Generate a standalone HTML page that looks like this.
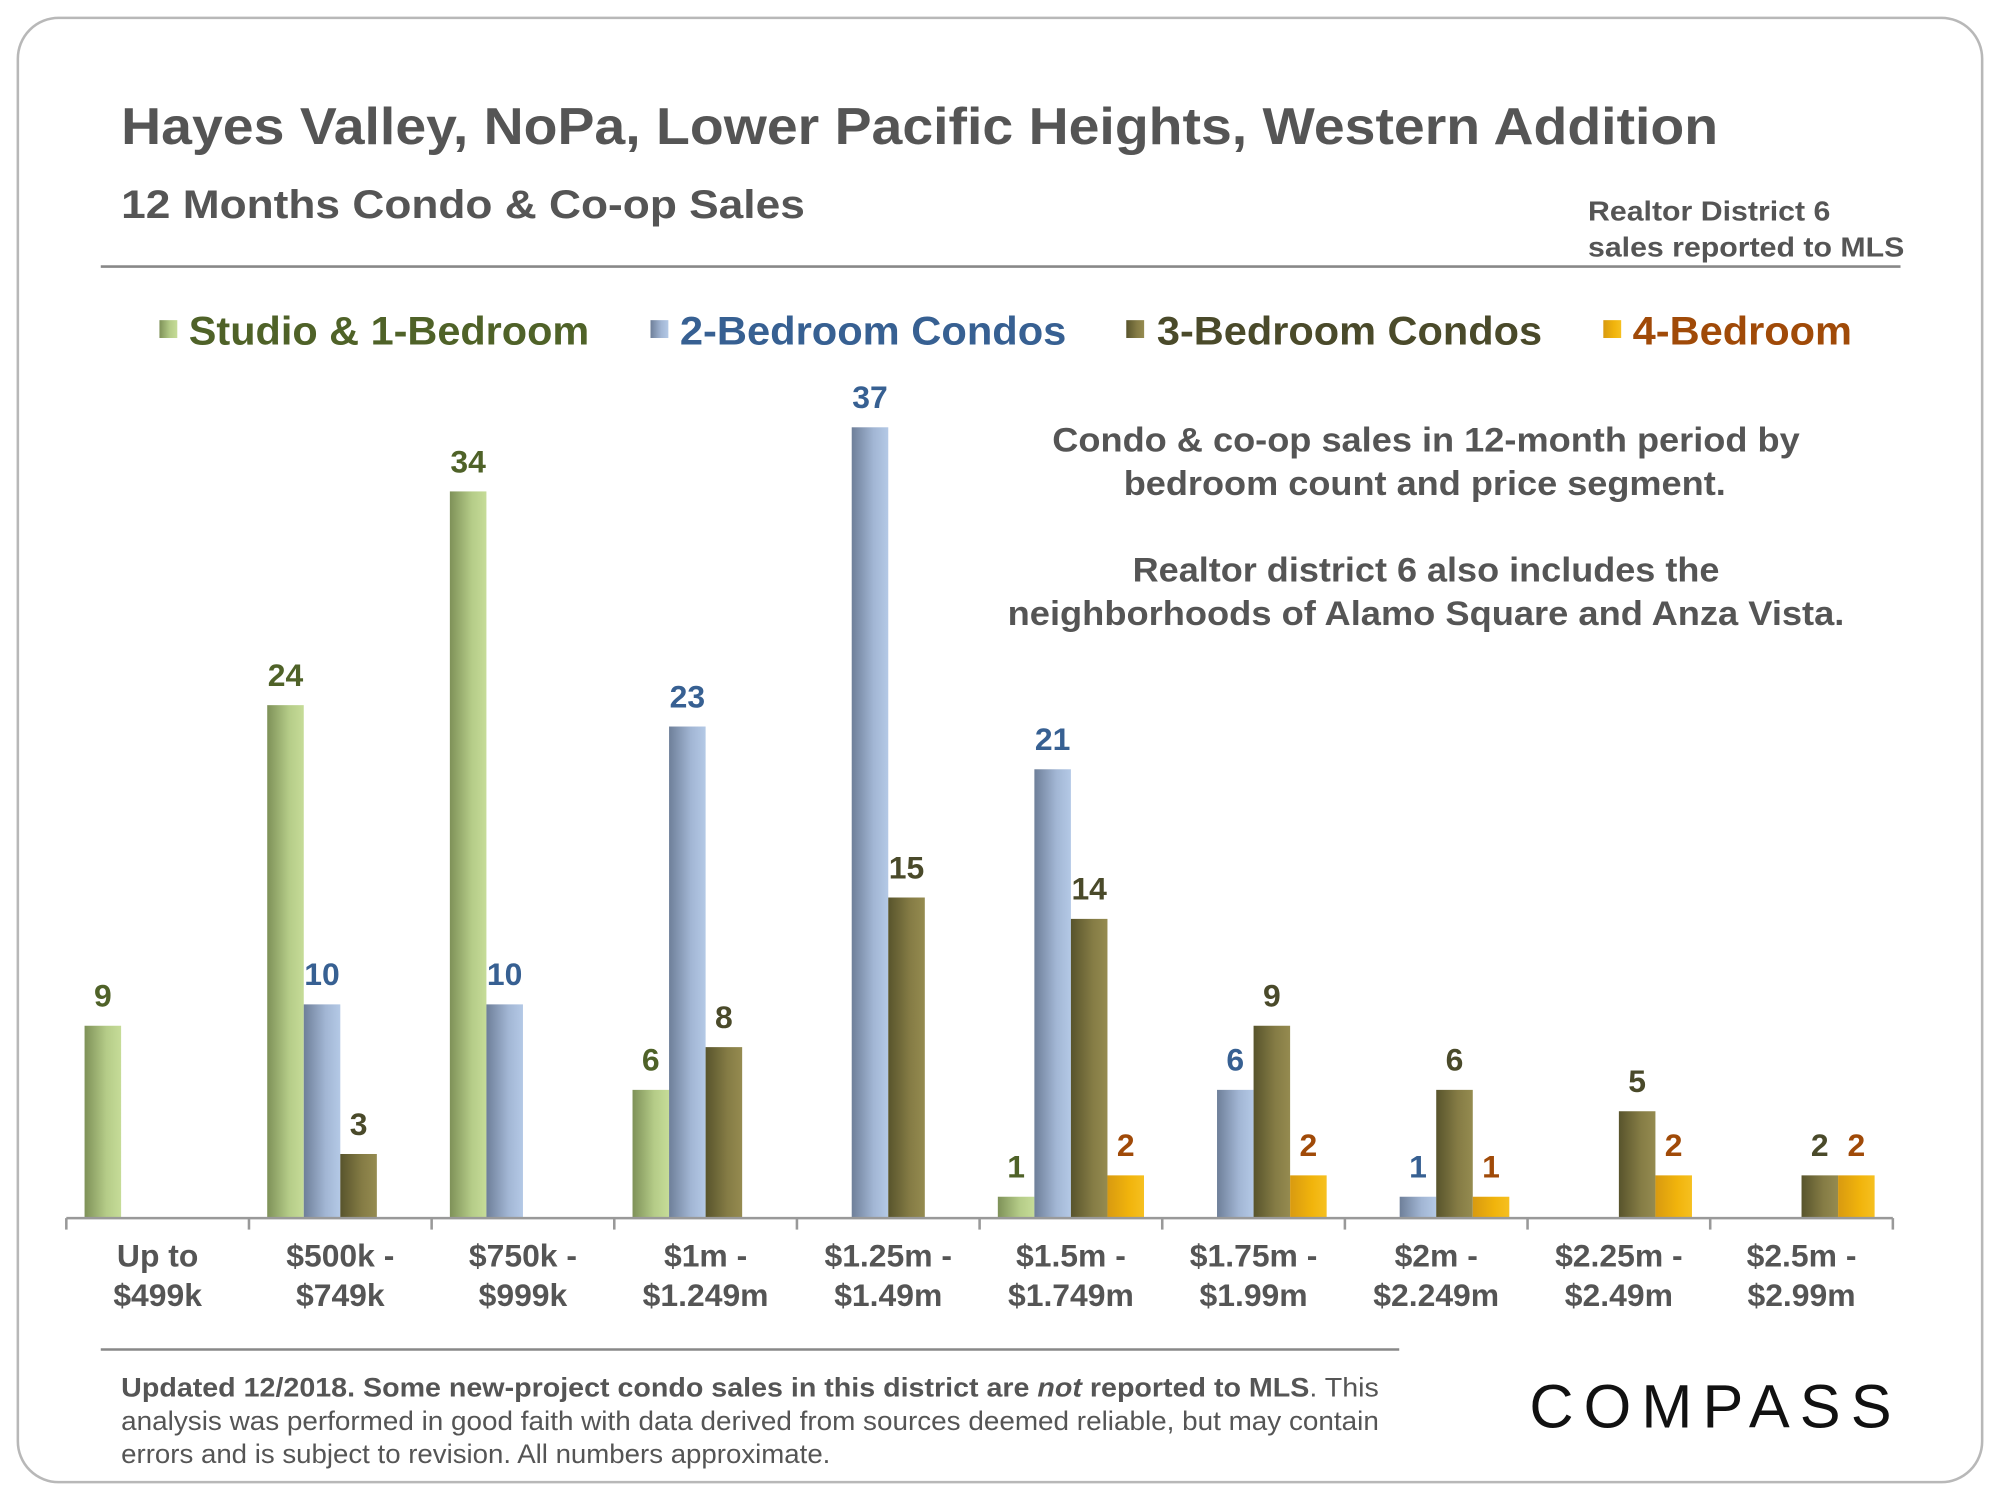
<!DOCTYPE html>
<html><head><meta charset="utf-8">
<style>
html,body{margin:0;padding:0;background:#fff;}
svg{display:block;font-family:"Liberation Sans",Arial,sans-serif;}
</style></head>
<body>
<svg id="chart" width="2000" height="1500" viewBox="0 0 1568 1176" xmlns="http://www.w3.org/2000/svg">
<defs>
<linearGradient id="gGreen" x1="0" x2="1" y1="0" y2="0"><stop offset="0" stop-color="#7e9158"/><stop offset="0.6" stop-color="#b5cc88"/><stop offset="1" stop-color="#c6dc98"/></linearGradient>
<linearGradient id="gBlue" x1="0" x2="1" y1="0" y2="0"><stop offset="0" stop-color="#6e7f99"/><stop offset="0.6" stop-color="#a2b6d4"/><stop offset="1" stop-color="#b4c9e6"/></linearGradient>
<linearGradient id="gOlive" x1="0" x2="1" y1="0" y2="0"><stop offset="0" stop-color="#58542c"/><stop offset="0.6" stop-color="#857c45"/><stop offset="1" stop-color="#958b50"/></linearGradient>
<linearGradient id="gOrange" x1="0" x2="1" y1="0" y2="0"><stop offset="0" stop-color="#d89a10"/><stop offset="0.6" stop-color="#f1b40c"/><stop offset="1" stop-color="#f6c020"/></linearGradient>
</defs>
<rect x="14" y="14" width="1540" height="1148" rx="32" fill="#fff" stroke="#b8b8b8" stroke-width="2"/>
<text x="95" y="113" font-size="41" font-weight="bold" fill="#555" textLength="1252" lengthAdjust="spacingAndGlyphs">Hayes Valley, NoPa, Lower Pacific Heights, Western Addition</text>
<text x="95" y="171" font-size="31" font-weight="bold" fill="#555" textLength="536" lengthAdjust="spacingAndGlyphs">12 Months Condo &amp; Co-op Sales</text>
<text x="1245" y="173" font-size="22" font-weight="bold" fill="#555" textLength="190" lengthAdjust="spacingAndGlyphs">Realtor District 6</text>
<text x="1245" y="201" font-size="22" font-weight="bold" fill="#555" textLength="248" lengthAdjust="spacingAndGlyphs">sales reported to MLS</text>
<line x1="79" y1="209" x2="1490" y2="209" stroke="#888" stroke-width="2"/>
<g font-size="31" font-weight="bold">
 <g><rect x="125" y="251" width="14" height="14" fill="url(#gGreen)"/><text x="148" y="270" fill="#4f6228" textLength="314" lengthAdjust="spacingAndGlyphs">Studio &amp; 1-Bedroom</text></g>
 <g><rect x="510" y="251" width="14" height="14" fill="url(#gBlue)"/><text x="533" y="270" fill="#376092" textLength="303" lengthAdjust="spacingAndGlyphs">2-Bedroom Condos</text></g>
 <g><rect x="883" y="251" width="14" height="14" fill="url(#gOlive)"/><text x="907" y="270" fill="#4a4a2a" textLength="302" lengthAdjust="spacingAndGlyphs">3-Bedroom Condos</text></g>
 <g><rect x="1257" y="251" width="14" height="14" fill="url(#gOrange)"/><text x="1280" y="270" fill="#a04a08" textLength="172" lengthAdjust="spacingAndGlyphs">4-Bedroom</text></g>
</g>
<g font-size="27" font-weight="bold" fill="#555" text-anchor="middle">
 <text x="1118" y="354" textLength="586" lengthAdjust="spacingAndGlyphs">Condo &amp; co-op sales in 12-month period by</text>
 <text x="1117" y="388" textLength="472" lengthAdjust="spacingAndGlyphs">bedroom count and price segment.</text>
 <text x="1118" y="456" textLength="460" lengthAdjust="spacingAndGlyphs">Realtor district 6 also includes the</text>
 <text x="1118" y="490" textLength="656" lengthAdjust="spacingAndGlyphs">neighborhoods of Alamo Square and Anza Vista.</text>
</g>
<g id="bars"></g>
<g id="axis"></g>
<line x1="79" y1="1058" x2="1097" y2="1058" stroke="#888" stroke-width="2"/>
<g font-size="21" fill="#555">
 <text x="95" y="1095" textLength="986" lengthAdjust="spacingAndGlyphs"><tspan font-weight="bold">Updated 12/2018. Some new-project condo sales in this district are <tspan font-style="italic">not</tspan> reported to MLS</tspan>. This</text>
 <text x="95" y="1121" textLength="986" lengthAdjust="spacingAndGlyphs">analysis was performed in good faith with data derived from sources deemed reliable, but may contain</text>
 <text x="95" y="1147" textLength="556" lengthAdjust="spacingAndGlyphs">errors and is subject to revision. All numbers approximate.</text>
</g>
<text x="1199" y="1119" font-size="48" fill="#111" textLength="284" lengthAdjust="spacing">COMPASS</text>
</svg>
<script>
const categories = [["Up to","$499k"],["$500k -","$749k"],["$750k -","$999k"],["$1m -","$1.249m"],["$1.25m -","$1.49m"],["$1.5m -","$1.749m"],["$1.75m -","$1.99m"],["$2m -","$2.249m"],["$2.25m -","$2.49m"],["$2.5m -","$2.99m"]];
const studio = [9,24,34,6,0,1,0,0,0,0];
const br2 = [0,10,10,23,37,21,6,1,0,0];
const br3 = [0,3,0,8,15,14,9,6,5,2];
const br4 = [0,0,0,0,0,2,2,1,2,2];
const seriesNames = ["studio","2br","3br","4br"];

const NS = "http://www.w3.org/2000/svg";
const x0 = 52, x1 = 1484, yBase = 955, yTop = 335, vTop = 37;
const band = (x1 - x0) / categories.length;
const barW = 28.65;
function xScale(i, s) { return x0 + i * band + band / 2 - 2 * barW + s * barW; }
function yScale(v) { return yBase - v * (yBase - yTop) / vTop; }
const fills = ["url(#gGreen)","url(#gBlue)","url(#gOlive)","url(#gOrange)"];
const labelColors = ["#4f6228","#376092","#4a4a2a","#a04a08"];
const series = [studio, br2, br3, br4];
const barsG = document.getElementById('bars');
series.forEach((arr, s) => {
  arr.forEach((v, i) => {
    if (!v) return;
    const r = document.createElementNS(NS, 'rect');
    r.setAttribute('x', xScale(i, s));
    r.setAttribute('y', yScale(v));
    r.setAttribute('width', barW);
    r.setAttribute('height', yBase - yScale(v));
    r.setAttribute('fill', fills[s]);
    
    
    barsG.appendChild(r);
    const t = document.createElementNS(NS, 'text');
    t.setAttribute('x', xScale(i, s) + barW / 2);
    t.setAttribute('y', yScale(v) - 15);
    t.setAttribute('text-anchor', 'middle');
    t.setAttribute('font-size', '25');
    t.setAttribute('font-weight', 'bold');
    t.setAttribute('fill', labelColors[s]);
    t.textContent = v;
    
    
    barsG.appendChild(t);
  });
});
const axisG = document.getElementById('axis');
const base = document.createElementNS(NS, 'line');
base.setAttribute('x1', x0); base.setAttribute('x2', x1);
base.setAttribute('y1', yBase); base.setAttribute('y2', yBase);
base.setAttribute('stroke', '#999'); base.setAttribute('stroke-width', '2');


axisG.appendChild(base);
for (let i = 0; i <= categories.length; i++) {
  const tk = document.createElementNS(NS, 'line');
  const x = x0 + i * band;
  tk.setAttribute('x1', x); tk.setAttribute('x2', x);
  tk.setAttribute('y1', yBase); tk.setAttribute('y2', yBase + 9);
  tk.setAttribute('stroke', '#999'); tk.setAttribute('stroke-width', '2');
  
  
  axisG.appendChild(tk);
}
categories.forEach((c, i) => {
  const t = document.createElementNS(NS, 'text');
  const cx = x0 + i * band + band / 2;
  t.setAttribute('text-anchor', 'middle');
  t.setAttribute('font-size', '25');
  t.setAttribute('font-weight', 'bold');
  t.setAttribute('fill', '#555');
  
  
  c.forEach((line, k) => {
    const sp = document.createElementNS(NS, 'tspan');
    sp.setAttribute('x', cx);
    sp.setAttribute('y', 993 + k * 31);
    sp.textContent = line;
    t.appendChild(sp);
  });
  axisG.appendChild(t);
});
</script>
</body></html>
